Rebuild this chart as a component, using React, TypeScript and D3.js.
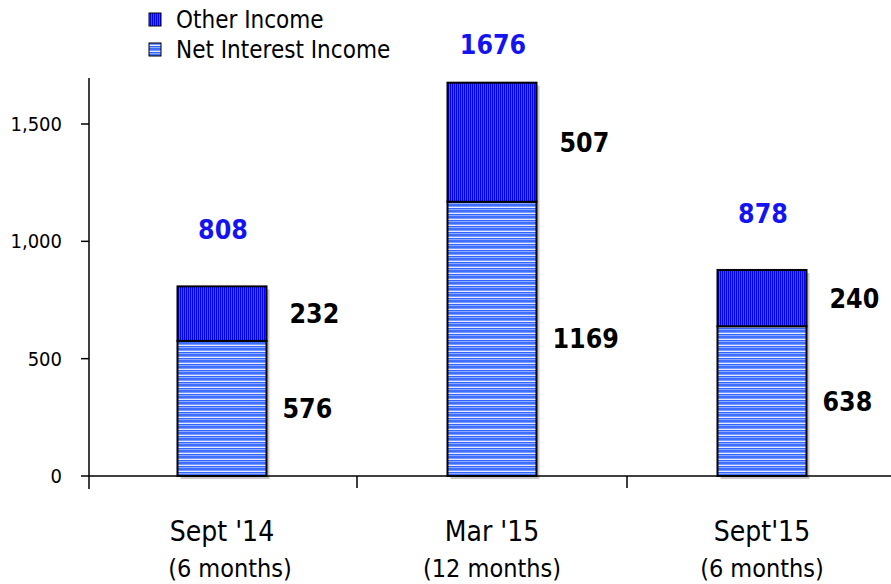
import React from "react";
import * as d3 from "d3";

const categories = ["Sept '14", "Mar '15", "Sept'15"];
const subLabels = ["(6 months)", "(12 months)", "(6 months)"];
const netInterest = [576, 1169, 638];
const otherIncome = [232, 507, 240];
const totals = [808, 1676, 878];
const yTicks = [0, 500, 1000, 1500];

const W = 891;
const H = 584;
const FONT = "'DejaVu Sans Condensed', 'DejaVu Sans', sans-serif";

export default function App() {
  const x0 = 89;
  const x1 = 899;
  const x = d3.scaleBand<string>().domain(categories).range([x0, x1]).paddingInner(0).paddingOuter(0);
  const y = d3.scaleLinear().domain([0, 1500]).range([476, 124]);
  const barW = 89;
  const bx = (c: string) => (x(c) as number) + x.bandwidth() / 2 - barW / 2 - 2;

  return (
    <svg width={W} height={H} style={{ position: "absolute", left: 0, top: 0, background: "#fff" }}>
      <defs>
        <pattern id="pOther" width={2} height={4} patternUnits="userSpaceOnUse">
          <rect x={0} y={0} width={1} height={4} fill="#0000ff" />
          <rect x={1} y={0} width={1} height={4} fill="#4d4dff" />
        </pattern>
        <pattern id="pNet" width={6} height={6} patternUnits="userSpaceOnUse">
          <rect x={0} y={0} width={6} height={2} fill="#3f6fff" />
          <rect x={0} y={2} width={6} height={1} fill="#7898ff" />
          <rect x={0} y={3} width={6} height={1} fill="#e6ecff" />
          <rect x={0} y={4} width={6} height={1} fill="#3366ff" />
          <rect x={0} y={5} width={6} height={1} fill="#8fa8ff" />
        </pattern>
      </defs>

      {/* bars */}
      {categories.map((c, i) => {
        const left = bx(c);
        const yNetTop = y(netInterest[i]);
        const yTop = y(totals[i]);
        const yBase = y(0);
        return (
          <g key={c}>
            <rect x={left + 3} y={yTop + 3} width={barW} height={yBase - yTop} fill="#c8c8c8" />
            <rect x={left} y={yNetTop} width={barW} height={yBase - yNetTop} fill="url(#pNet)" stroke="#000" strokeWidth={2} />
            <rect x={left} y={yTop} width={barW} height={yNetTop - yTop} fill="url(#pOther)" stroke="#000" strokeWidth={2} />
          </g>
        );
      })}

      {/* y axis */}
      <line x1={x0} x2={x0} y1={78} y2={y(0) + 13} stroke="#000" strokeWidth={1.5} />
      {yTicks.map((t) => (
        <g key={t}>
          <line x1={x0 - 8} x2={x0} y1={y(t)} y2={y(t)} stroke="#000" strokeWidth={1.5} />
          <text x={62} y={y(t)} dy="0.35em" textAnchor="end" fontFamily={FONT} fontSize={20} fill="#000">
            {d3.format(",")(t)}
          </text>
        </g>
      ))}

      {/* x axis */}
      <line x1={x0} x2={W} y1={y(0)} y2={y(0)} stroke="#000" strokeWidth={1.5} />
      {categories.slice(1).map((c) => (
        <line key={c} x1={x(c) as number - 2} x2={x(c) as number - 2} y1={y(0)} y2={y(0) + 12} stroke="#000" strokeWidth={1.5} />
      ))}

      {/* category labels */}
      {categories.map((c, i) => {
        const cx = (x(c) as number) + x.bandwidth() / 2 - 2;
        return (
          <g key={c}>
            <text x={cx} y={541} textAnchor="middle" fontFamily={FONT} fontSize={28} fill="#000">{c}</text>
            <text x={cx + (i === 0 ? 8 : 0)} y={577} textAnchor="middle" fontFamily={FONT} fontSize={25} fill="#000">{subLabels[i]}</text>
          </g>
        );
      })}

      {/* total labels */}
      {categories.map((c, i) => {
        const cx = bx(c) + barW / 2 + 1;
        const ty = Math.max(y(totals[i]) - 47, 54);
        return (
          <text key={c} x={cx} y={ty} textAnchor="middle" fontFamily={FONT} fontWeight="bold" fontSize={26.5} fill="#1414f0">
            {totals[i]}
          </text>
        );
      })}

      {/* segment labels */}
      {categories.map((c, i) => {
        const right = bx(c) + barW;
        const yNetTop = y(netInterest[i]);
        const yTop = y(totals[i]);
        return (
          <g key={c}>
            <text x={right + 23} y={(yTop + yNetTop) / 2} dy="0.36em" fontFamily={FONT} fontWeight="bold" fontSize={26.5} fill="#000">
              {otherIncome[i]}
            </text>
            <text x={right + 16} y={(yNetTop + y(0)) / 2} dy="0.36em" fontFamily={FONT} fontWeight="bold" fontSize={26.5} fill="#000">
              {netInterest[i]}
            </text>
          </g>
        );
      })}

      {/* legend */}
      <rect x={149} y={13} width={12} height={13} fill="url(#pOther)" stroke="#000" strokeWidth={1} />
      <text x={176} y={20} dy="0.35em" fontFamily={FONT} fontSize={24} fill="#000">Other Income</text>
      <rect x={149} y={43} width={12} height={13} fill="url(#pNet)" stroke="#000" strokeWidth={1} />
      <text x={176} y={50} dy="0.35em" fontFamily={FONT} fontSize={24} fill="#000">Net Interest Income</text>
    </svg>
  );
}
